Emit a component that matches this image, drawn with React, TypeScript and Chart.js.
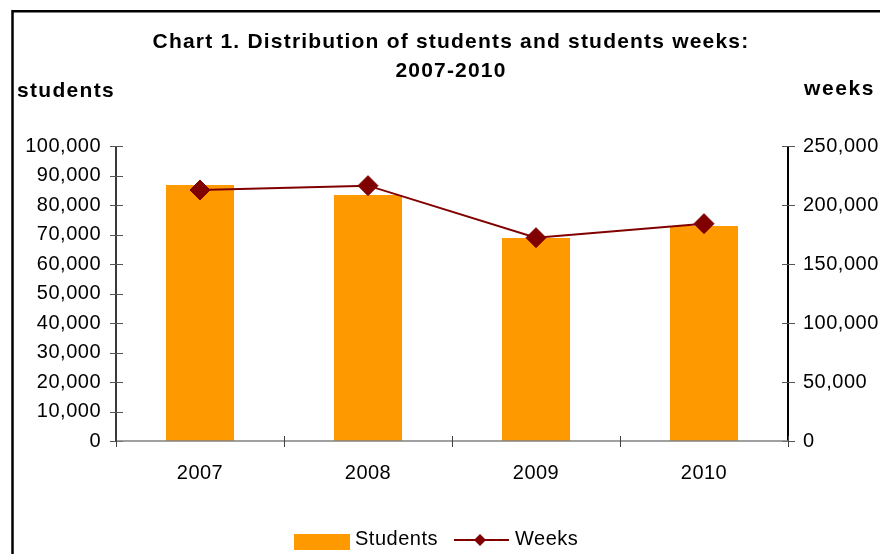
import React, { useEffect, useRef } from 'react';
import { Chart, registerables } from 'chart.js';

Chart.register(...registerables);

const categories = ['2007', '2008', '2009', '2010'];
const students = [86800, 83400, 68800, 72900];
const weeks = [212700, 216400, 172300, 184200];
const titleLines = ['Chart 1. Distribution of students and students weeks:', '2007-2010'];
const leftAxisTitle = 'students';
const rightAxisTitle = 'weeks';
const seriesNames = ['Students', 'Weeks'];
const leftMax = 100000;
const leftStep = 10000;
const rightMax = 250000;
const rightStep = 50000;

const FONT = "'Liberation Sans', Arial, sans-serif";
const BAR = '#FF9900';
const LINE = '#800000';

const fmt = (v: any) => Number(v).toLocaleString('en-US');

const decor = {
  id: 'decor',
  beforeDraw(chart: any) {
    const ctx = chart.ctx;
    ctx.save();
    ctx.fillStyle = '#fff';
    ctx.fillRect(0, 0, chart.width, chart.height);
    ctx.strokeStyle = '#000';
    ctx.lineWidth = 2.5;
    ctx.beginPath();
    ctx.moveTo(4.5, chart.height + 10);
    ctx.lineTo(4.5, 3.2);
    ctx.lineTo(878, 3.2);
    ctx.lineTo(878, chart.height + 10);
    ctx.stroke();
    ctx.fillStyle = '#000';
    ctx.font = `bold 21px ${FONT}`;
    ctx.letterSpacing = '1.2px';
    ctx.textBaseline = 'middle';
    ctx.textAlign = 'center';
    ctx.fillText(titleLines[0], 443, 34);
    ctx.fillText(titleLines[1], 443, 63);
    ctx.textAlign = 'left';
    ctx.letterSpacing = '1.3px';
    ctx.fillText(leftAxisTitle, 9, 83);
    ctx.textAlign = 'right';
    ctx.letterSpacing = '1.6px';
    ctx.fillText(rightAxisTitle, 867, 81);
    ctx.restore();
    ctx.letterSpacing = '0.5px';
  },
  afterDraw(chart: any) {
    const ctx = chart.ctx;
    const a = chart.chartArea;
    const { x, y, y1 } = chart.scales;
    ctx.save();
    ctx.letterSpacing = '0px';
    const y0 = y.getPixelForValue(0);
    // left axis
    const lTop = y.getPixelForValue(leftMax);
    const lx = Math.round(a.left);
    ctx.fillStyle = '#3a3a3a';
    ctx.fillRect(lx - 1, lTop, 2, y0 - lTop);
    ctx.strokeStyle = '#555555';
    ctx.lineWidth = 1;
    ctx.beginPath();
    for (let v = 0; v <= leftMax; v += leftStep) {
      const py = Math.round(y.getPixelForValue(v)) + 0.5;
      ctx.moveTo(lx - 6, py);
      ctx.lineTo(lx + 7, py);
    }
    ctx.stroke();
    // right axis
    const rTop = y1.getPixelForValue(rightMax);
    const rx = Math.round(a.right);
    ctx.fillStyle = '#000';
    ctx.fillRect(rx - 1, rTop, 2, y0 - rTop);
    ctx.beginPath();
    for (let v = 0; v <= rightMax; v += rightStep) {
      const py = Math.round(y1.getPixelForValue(v)) + 0.5;
      ctx.moveTo(rx - 6, py);
      ctx.lineTo(rx + 7, py);
    }
    ctx.stroke();
    // x axis
    ctx.strokeStyle = '#808080';
    ctx.lineWidth = 1.5;
    ctx.beginPath();
    ctx.moveTo(lx, y0);
    ctx.lineTo(rx, y0);
    ctx.stroke();
    ctx.strokeStyle = '#404040';
    ctx.lineWidth = 1;
    ctx.beginPath();
    for (let i = 0; i <= categories.length; i++) {
      const px = Math.round(x.getPixelForValue(i - 0.5)) + 0.5;
      ctx.moveTo(px, y0 - 5);
      ctx.lineTo(px, y0 + 6);
    }
    ctx.stroke();

    // legend
    ctx.letterSpacing = '0.5px';
    ctx.font = `20px ${FONT}`;
    ctx.fillStyle = BAR;
    ctx.fillRect(286, 526, 56, 16);
    ctx.fillStyle = '#000';
    ctx.textBaseline = 'middle';
    ctx.textAlign = 'left';
    ctx.fillText(seriesNames[0], 347, 531);
    ctx.strokeStyle = LINE;
    ctx.lineWidth = 2;
    ctx.beginPath();
    ctx.moveTo(446, 532);
    ctx.lineTo(501, 532);
    ctx.stroke();
    ctx.fillStyle = LINE;
    ctx.beginPath();
    ctx.moveTo(472, 526);
    ctx.lineTo(478, 532);
    ctx.lineTo(472, 538);
    ctx.lineTo(466, 532);
    ctx.closePath();
    ctx.fill();
    ctx.fillStyle = '#000';
    ctx.fillText(seriesNames[1], 507, 531);
    ctx.restore();
    ctx.letterSpacing = '0px';
  },
};

export default function App() {
  const ref = useRef<HTMLCanvasElement>(null);
  useEffect(() => {
    if (!ref.current) return;
    const tickFont = { family: FONT, size: 20 };
    const chart = new Chart(ref.current, {
      type: 'bar',
      data: {
        labels: categories,
        datasets: [
          {
            type: 'line',
            label: seriesNames[1],
            data: weeks,
            yAxisID: 'y1',
            borderColor: LINE,
            backgroundColor: LINE,
            borderWidth: 2,
            pointStyle: 'rectRot',
            pointRadius: 10,
            pointBorderWidth: 1,
            pointBackgroundColor: LINE,
            pointBorderColor: LINE,
            tension: 0,
            order: 0,
          } as any,
          {
            type: 'bar',
            label: seriesNames[0],
            data: students,
            yAxisID: 'y',
            backgroundColor: BAR,
            barPercentage: 0.405,
            categoryPercentage: 1,
            order: 1,
          },
        ],
      },
      options: {
        animation: false,
        responsive: false,
        layout: { padding: { top: 138, bottom: 73, left: 0, right: 0 } },
        plugins: { legend: { display: false }, tooltip: { enabled: false } },
        scales: {
          x: {
            type: 'category',
            offset: true,
            grid: { display: false, drawTicks: false },
            border: { display: false },
            ticks: { font: tickFont, color: '#000', padding: 20, maxRotation: 0 },
            afterFit: (s: any) => { s.height = 40; },
          },
          y: {
            position: 'left',
            min: 0,
            max: leftMax,
            grid: { display: false, drawTicks: false },
            border: { display: false },
            ticks: { stepSize: leftStep, callback: fmt, font: tickFont, color: '#000', padding: 15 },
            afterFit: (s: any) => { s.width = 108; },
          },
          y1: {
            position: 'right',
            min: 0,
            max: rightMax,
            grid: { display: false, drawTicks: false },
            border: { display: false },
            ticks: { stepSize: rightStep, callback: fmt, font: tickFont, color: '#000', padding: 15 },
            afterFit: (s: any) => { s.width = 100; },
          },
        },
      } as any,
      plugins: [decor],
    });
    return () => chart.destroy();
  }, []);
  return <canvas ref={ref} width={880} height={546} style={{ display: 'block' }} />;
}
